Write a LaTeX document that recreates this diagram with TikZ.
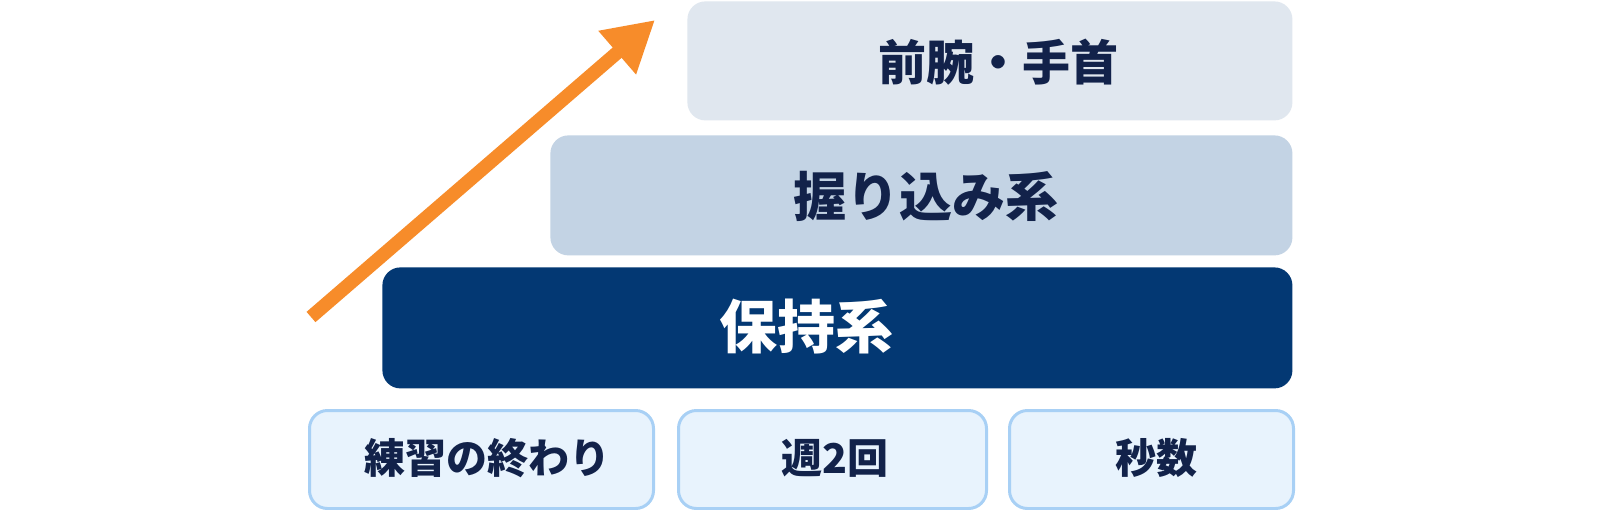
\documentclass[tikz,border=0pt]{standalone}
\usepackage{fontspec}
\newfontfamily\jpfont{Noto Sans CJK JP}
\usetikzlibrary{arrows.meta}

\definecolor{topfill}{HTML}{E0E7EF}
\definecolor{midfill}{HTML}{C3D3E4}
\definecolor{navy}{HTML}{033873}
\definecolor{basefill}{HTML}{E8F3FD}
\definecolor{baseline}{HTML}{A8D0F5}
\definecolor{inktext}{HTML}{12224A}
\definecolor{arroworange}{HTML}{F78C2A}

\tikzset{
  layer/.style={rectangle,rounded corners=9pt,inner sep=0pt,anchor=north west},
  basebox/.style={layer,fill=basefill,draw=baseline,line width=1.5pt},
  label/.style={font=\jpfont\bfseries,text=inktext,inner sep=0pt}
}

\begin{document}
\begin{tikzpicture}[x=0.5pt,y=-0.5pt]

\useasboundingbox[fill=white] (0,0) rectangle (1600,509);

\node[layer,fill=topfill,minimum width=302.5pt,minimum height=59.5pt] (top) at (687,1) {};
\node[layer,fill=midfill,minimum width=371pt,minimum height=60pt] (mid) at (550,135) {};
\node[layer,fill=navy,minimum width=455pt,minimum height=60.5pt] (hold) at (382,267) {};

\node[basebox,minimum width=172pt,minimum height=49pt] (end) at (308,409) {};
\node[basebox,minimum width=154pt,minimum height=49pt] (week) at (677,409) {};
\node[basebox,minimum width=142pt,minimum height=49pt] (sec) at (1008,409) {};

\node[label,font=\jpfont\bfseries\fontsize{24pt}{24pt}\selectfont] (toptext) at (998,62) {前腕・手首};
\node[label,font=\jpfont\bfseries\fontsize{26.5pt}{26.5pt}\selectfont] (midtext) at (926,196) {握り込み系};
\node[label,text=white,font=\jpfont\bfseries\fontsize{29pt}{29pt}\selectfont] (holdtext) at (806,327) {保持系};

\node[label,font=\jpfont\bfseries\fontsize{20.5pt}{20.5pt}\selectfont] (endtext) at (487,458) {練習の終わり};
\node[label,font=\jpfont\bfseries\fontsize{20.5pt}{20.5pt}\selectfont] (weektext) at (835,458) {週2回};
\node[label,font=\jpfont\bfseries\fontsize{20.5pt}{20.5pt}\selectfont] (sectext) at (1156,458) {秒数};

\coordinate (tail) at (311,317);
\coordinate (tip) at (655,20);
\draw[arroworange,line width=6.8pt,-{Triangle[length=25pt,width=27pt]}] (tail) -- (tip);

\end{tikzpicture}
\end{document}
